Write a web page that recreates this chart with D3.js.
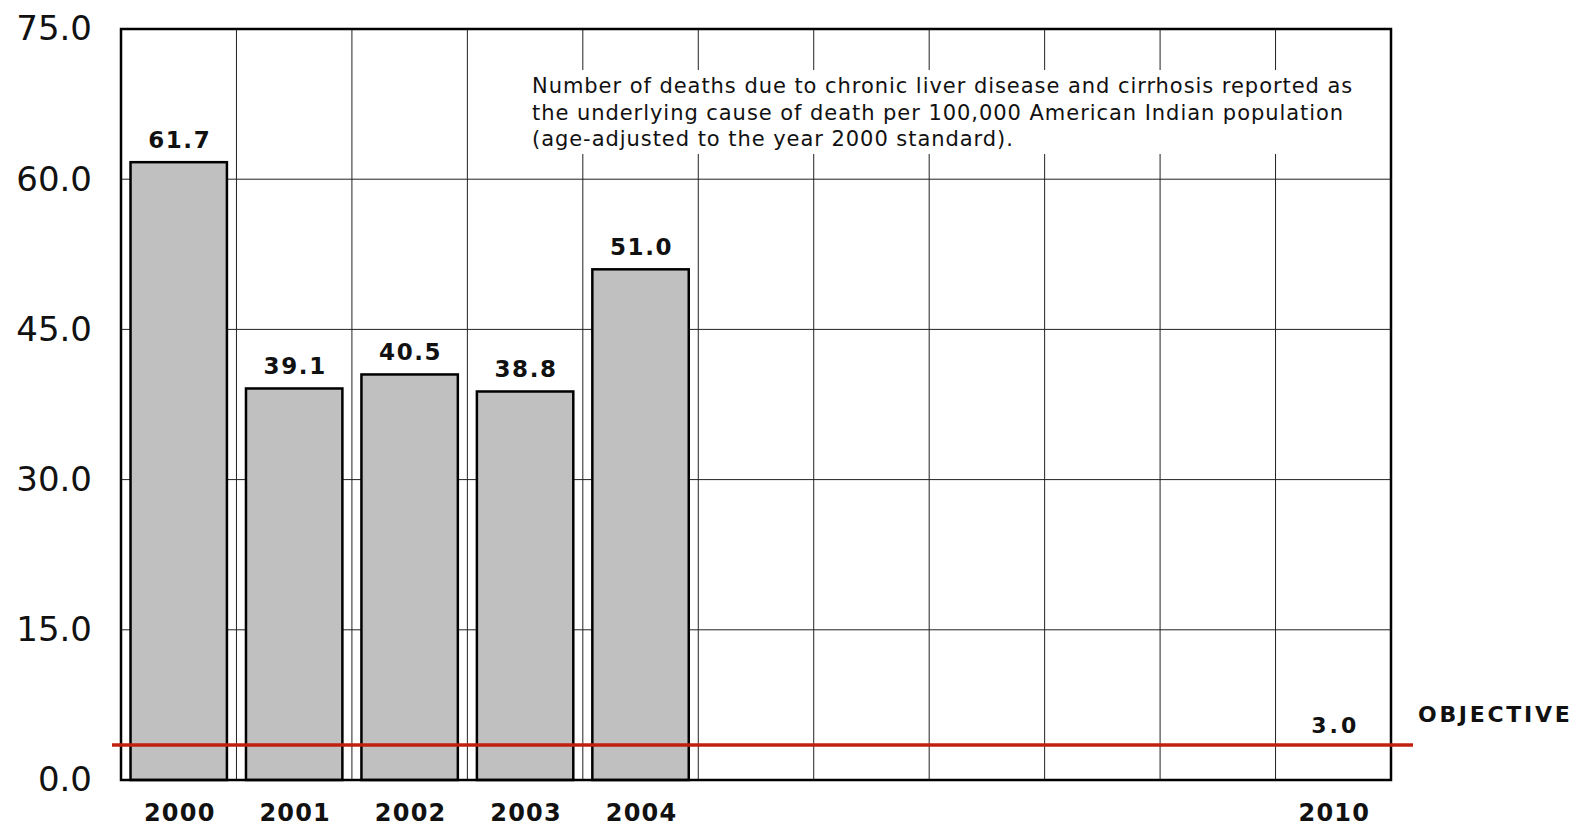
<!DOCTYPE html>
<html><head><meta charset="utf-8">
<script src="https://cdn.jsdelivr.net/npm/d3@7"></script>
<style>body{margin:0;background:#fff;}svg{display:block;}</style>
</head><body><svg id="c" width="1581" height="828"></svg>
<script>
const years = ["2000","2001","2002","2003","2004","2005","2006","2007","2008","2009","2010"];
const barYears = ["2000","2001","2002","2003","2004"];
const barValues = [61.7, 39.1, 40.5, 38.8, 51.0];
const xTickLabels = ["2000","2001","2002","2003","2004","","","","","","2010"];
const yTicks = [0, 15, 30, 45, 60, 75];
const objectiveValue = 3.0;
const objectiveLineLevel = 3.5;
const noteLines = [
  "Number of deaths due to chronic liver disease and cirrhosis reported as",
  "the underlying cause of death per 100,000 American Indian population",
  "(age-adjusted to the year 2000 standard)."
];

const svg = d3.select("#c");
const L = 121, R = 1391, T = 29, B = 780;
const x = d3.scaleBand().domain(years).range([L, R]).paddingInner(0.165).paddingOuter(0.0825);
const xc = d3.scaleBand().domain(years).range([L, R]);
const y = d3.scaleLinear().domain([0, 75]).range([B, T]);

// grid
const g = svg.append("g");
g.selectAll("line.h").data(yTicks.slice(1, -1)).join("line")
  .attr("x1", L).attr("x2", R).attr("y1", d => y(d)).attr("y2", d => y(d))
  .attr("stroke", "#222").attr("stroke-width", 1);
g.selectAll("line.v").data(years.slice(1)).join("line")
  .attr("x1", d => xc(d)).attr("x2", d => xc(d)).attr("y1", T).attr("y2", B)
  .attr("stroke", "#222").attr("stroke-width", 1);

// note box
svg.append("rect").attr("x", 520).attr("y", 70).attr("width", 866).attr("height", 84).attr("fill", "#fff");
svg.append("g").selectAll("text").data(noteLines).join("text")
  .attr("x", 532).attr("y", (d, i) => 93 + i * 26.6)
  .attr("font-family", "DejaVu Sans").attr("font-size", 21).attr("letter-spacing", 0.95).attr("fill", "#111")
  .text(d => d);

// bars
svg.append("g").selectAll("rect").data(barYears).join("rect")
  .attr("x", d => x(d)).attr("width", x.bandwidth())
  .attr("y", (d, i) => y(barValues[i])).attr("height", (d, i) => B - y(barValues[i]))
  .attr("fill", "#c0c0c0").attr("stroke", "#000").attr("stroke-width", 2.5);

// value labels
svg.append("g").selectAll("text").data(barYears).join("text")
  .attr("x", d => xc(d) + xc.bandwidth() / 2 + 1).attr("y", (d, i) => y(barValues[i]) - 14)
  .attr("text-anchor", "middle").attr("font-family", "DejaVu Sans").attr("font-weight", "bold")
  .attr("font-size", 23).attr("letter-spacing", 1.6).attr("fill", "#111")
  .text((d, i) => barValues[i].toFixed(1));

// frame
svg.append("rect").attr("x", L).attr("y", T).attr("width", R - L).attr("height", B - T)
  .attr("fill", "none").attr("stroke", "#000").attr("stroke-width", 2.5);

// y axis labels
const yAxis = d3.axisLeft(y).tickValues(yTicks).tickFormat(d3.format(".1f")).tickSize(0).tickPadding(29);
const ya = svg.append("g").attr("transform", `translate(${L},0)`).call(yAxis);
ya.select(".domain").remove();
ya.selectAll("text").attr("font-family", "DejaVu Sans").attr("font-size", 34).attr("fill", "#111");

// x axis labels
const xAxis = d3.axisBottom(xc).tickFormat((d, i) => xTickLabels[i]).tickSize(0).tickPadding(24);
const xa = svg.append("g").attr("transform", `translate(1,${B})`).call(xAxis);
xa.select(".domain").remove();
xa.selectAll("text").attr("font-family", "DejaVu Sans").attr("font-weight", "bold")
  .attr("font-size", 24).attr("letter-spacing", 1.2).attr("fill", "#111");

// objective line
svg.append("line").attr("x1", 112).attr("x2", 1413)
  .attr("y1", y(objectiveLineLevel)).attr("y2", y(objectiveLineLevel))
  .attr("stroke", "#c02010").attr("stroke-width", 3.5);
svg.append("text").attr("x", xc("2010") + xc.bandwidth() / 2 + 2).attr("y", 733)
  .attr("text-anchor", "middle").attr("font-family", "DejaVu Sans").attr("font-weight", "bold")
  .attr("font-size", 22).attr("letter-spacing", 3).attr("fill", "#111")
  .text(objectiveValue.toFixed(1));
svg.append("text").attr("x", 1418).attr("y", 722)
  .attr("font-family", "DejaVu Sans").attr("font-weight", "bold")
  .attr("font-size", 22).attr("letter-spacing", 2.7).attr("fill", "#111")
  .text("OBJECTIVE");
</script></body></html>
